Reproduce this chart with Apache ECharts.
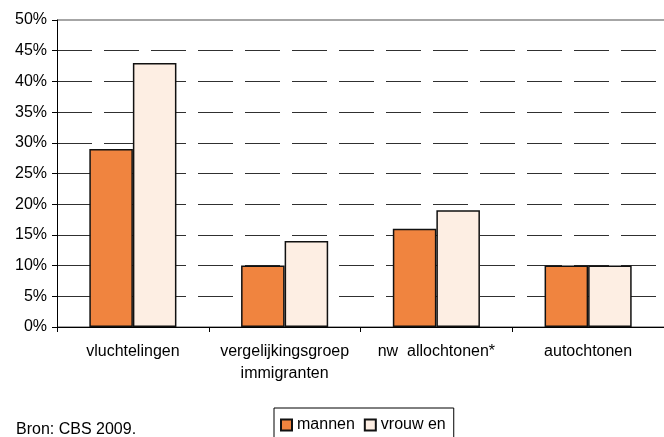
<!DOCTYPE html>
<html>
<head>
<meta charset="utf-8">
<script src="https://cdn.jsdelivr.net/npm/echarts@6/dist/echarts.min.js"></script>
<style>
  html, body { margin: 0; padding: 0; background: #fff; }
  #chart { width: 664px; height: 437px; }
</style>
</head>
<body>
<div id="chart"></div>
<script>
// Aandeel per groep, uitgesplitst naar geslacht (in %)
const categories = ['vluchtelingen', 'vergelijkingsgroep\nimmigranten', 'nw  allochtonen*', 'autochtonen'];
const mannen = [29, 10, 16, 10];
const vrouwen = [43, 14, 19, 10];
const seriesNames = ['mannen', 'vrouw en'];
const yTicks = { min: 0, max: 50, interval: 5 };
const source = 'Bron: CBS 2009.';

const FONT = 'Liberation Sans, Arial, sans-serif';
const chart = echarts.init(document.getElementById('chart'), null, { renderer: 'canvas' });

chart.setOption({
  animation: false,
  backgroundColor: '#ffffff',
  textStyle: { fontFamily: FONT, color: '#000' },
  grid: { left: 57, right: -7, top: 20, bottom: 110, containLabel: false },
  legend: {
    left: 274,
    top: 408,
    padding: [9, 8, 20, 6],
    borderColor: '#000',
    borderWidth: 1,
    itemWidth: 11,
    itemHeight: 11,
    itemGap: 9,
    icon: 'rect',
    textStyle: { fontFamily: FONT, fontSize: 16, color: '#000' },
    data: seriesNames
  },
  xAxis: {
    type: 'category',
    data: categories,
    z: 5,
    axisLine: { lineStyle: { color: '#000', width: 1 } },
    axisTick: { show: true, length: 5, lineStyle: { color: '#000' } },
    axisLabel: {
      fontFamily: FONT, fontSize: 16, color: '#000',
      margin: 14, lineHeight: 22, interval: 0
    },
    splitLine: { show: false }
  },
  yAxis: [
    {
      type: 'value',
      min: yTicks.min, max: yTicks.max, interval: yTicks.interval,
      axisLine: { show: true, lineStyle: { color: '#000', width: 1 } },
      axisTick: { show: true, length: 5, lineStyle: { color: '#000' } },
      axisLabel: {
        fontFamily: FONT, fontSize: 16, color: '#000', margin: 10,
        formatter: v => v + '%'
      },
      splitLine: {
        show: true,
        lineStyle: { color: '#303030', width: 1.2, type: [35, 12] }
      }
    },
    {
      // frame line along the top of the plot
      type: 'value',
      min: yTicks.min, max: yTicks.max, interval: yTicks.max,
      position: 'left',
      axisLine: { show: false },
      axisTick: { show: false },
      axisLabel: { show: false },
      splitLine: { show: true, lineStyle: { color: '#a6a6a6', width: 2 } }
    }
  ],
  series: [
    {
      name: seriesNames[0],
      type: 'bar',
      data: mannen,
      barWidth: '28.7%',
      barGap: '0%',
      itemStyle: { color: '#F0843F', borderColor: '#111', borderWidth: 1.5 },
      z: 3
    },
    {
      name: seriesNames[1],
      type: 'bar',
      data: vrouwen,
      barWidth: '28.7%',
      barGap: '0%',
      itemStyle: { color: '#FDEEE3', borderColor: '#111', borderWidth: 1.5 },
      z: 3
    }
  ],
  graphic: [
    {
      type: 'text',
      left: 16,
      top: 422,
      style: { text: source, fontFamily: FONT, fontSize: 16, fill: '#000' }
    }
  ]
});
</script>
</body>
</html>
